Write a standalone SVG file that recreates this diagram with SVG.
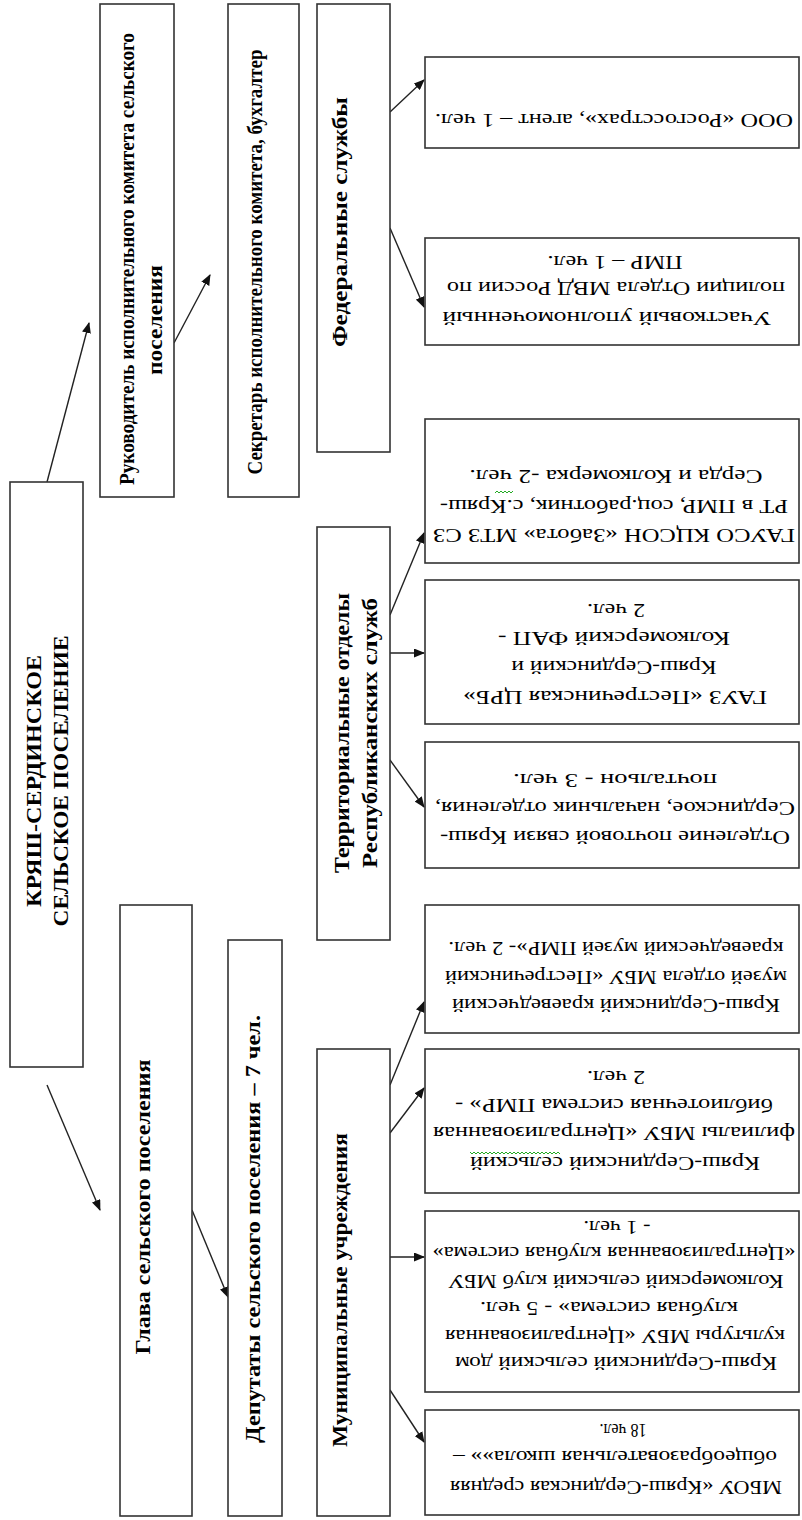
<svg xmlns="http://www.w3.org/2000/svg" width="802" height="1520" viewBox="0 0 802 1520">
<style>
.box{fill:#fff;stroke:#333;stroke-width:1.6}
.lt{font-family:"Liberation Serif","Times New Roman",serif;font-weight:bold;font-size:20px;fill:#000;text-anchor:middle;dominant-baseline:central}
.rt{font-family:"Liberation Serif","Times New Roman",serif;font-size:18px;fill:#000;text-anchor:middle;dominant-baseline:central}
.con{stroke:#222;stroke-width:1.4;fill:none;marker-end:url(#ah)}
.sq{stroke:#2a2;stroke-width:1;fill:none}
</style>
<defs>
<marker id="ah" markerUnits="userSpaceOnUse" markerWidth="11" markerHeight="9" refX="10" refY="4.5" orient="auto">
<path d="M0,0 L11,4.5 L0,9 z" fill="#111"/>
</marker>
</defs>
<rect width="802" height="1520" fill="#fff"/>

<g id="connectors">
<line class="con" x1="47" y1="482" x2="89" y2="323"/>
<line class="con" x1="47" y1="1085" x2="100" y2="1210"/>
<line class="con" x1="174" y1="343" x2="210" y2="275"/>
<line class="con" x1="192" y1="1210" x2="228" y2="1297"/>
<line class="con" x1="390" y1="112" x2="424" y2="80"/>
<line class="con" x1="390" y1="228" x2="424" y2="307"/>
<line class="con" x1="390" y1="615" x2="424" y2="533"/>
<line class="con" x1="390" y1="653" x2="424" y2="653"/>
<line class="con" x1="390" y1="760" x2="424" y2="807"/>
<line class="con" x1="390" y1="1085" x2="424" y2="1002"/>
<line class="con" x1="390" y1="1133" x2="424" y2="1088"/>
<line class="con" x1="390" y1="1257" x2="424" y2="1257"/>
<line class="con" x1="390" y1="1390" x2="424" y2="1442"/>
</g>

<g id="main">
<rect class="box" x="10" y="482" width="73" height="585"/>
<text class="lt" font-size="22" transform="translate(34,781) rotate(-90)" textLength="252" lengthAdjust="spacingAndGlyphs">КРЯШ-СЕРДИНСКОЕ</text>
<text class="lt" font-size="22" transform="translate(61,781) rotate(-90)" textLength="291" lengthAdjust="spacingAndGlyphs">СЕЛЬСКОЕ ПОСЕЛЕНИЕ</text>
</g>

<g id="rukovoditel">
<rect class="box" x="100" y="4" width="74" height="493"/>
<text class="lt" transform="translate(127,259) rotate(-90)" textLength="452" lengthAdjust="spacingAndGlyphs">Руководитель исполнительного комитета сельского</text>
<text class="lt" transform="translate(155,320) rotate(-90)" textLength="110" lengthAdjust="spacingAndGlyphs">поселения</text>
</g>

<g id="sekretar">
<rect class="box" x="228" y="4" width="71" height="493"/>
<text class="lt" transform="translate(255,262) rotate(-90)" textLength="425" lengthAdjust="spacingAndGlyphs">Секретарь исполнительного комитета, бухгалтер</text>
</g>

<g id="glava">
<rect class="box" x="120" y="905" width="72" height="611"/>
<text class="lt" transform="translate(143,1207) rotate(-90)" textLength="295" lengthAdjust="spacingAndGlyphs">Глава сельского поселения</text>
</g>

<g id="deputaty">
<rect class="box" x="228" y="940" width="54" height="576"/>
<text class="lt" transform="translate(253,1229) rotate(-90)" textLength="428" lengthAdjust="spacingAndGlyphs">Депутаты сельского поселения – 7 чел.</text>
</g>

<g id="federal">
<rect class="box" x="317" y="4" width="73" height="448"/>
<text class="lt" transform="translate(340,222) rotate(-90)" textLength="250" lengthAdjust="spacingAndGlyphs">Федеральные службы</text>
</g>

<g id="territorial">
<rect class="box" x="317" y="527" width="73" height="413"/>
<text class="lt" transform="translate(342,733) rotate(-90)" textLength="280" lengthAdjust="spacingAndGlyphs">Территориальные отделы</text>
<text class="lt" transform="translate(370,733) rotate(-90)" textLength="270" lengthAdjust="spacingAndGlyphs">Республиканских служб</text>
</g>

<g id="municipal">
<rect class="box" x="317" y="1049" width="73" height="467"/>
<text class="lt" transform="translate(340,1290) rotate(-90)" textLength="314" lengthAdjust="spacingAndGlyphs">Муниципальные учреждения</text>
</g>

<g id="rosgosstrakh">
<rect class="box" x="425" y="57" width="374" height="91"/>
<text class="rt" transform="translate(614,120) rotate(180)" textLength="358" lengthAdjust="spacingAndGlyphs">ООО «Росгосстрах», агент – 1 чел.</text>
</g>

<g id="police">
<rect class="box" x="425" y="238" width="374" height="107"/>
<text class="rt" transform="translate(607,318) rotate(180)" textLength="329" lengthAdjust="spacingAndGlyphs">Участковый уполномоченный</text>
<text class="rt" transform="translate(616,288) rotate(180)" textLength="338" lengthAdjust="spacingAndGlyphs">полиции Отдела МВД России по</text>
<text class="rt" transform="translate(615,262) rotate(180)" textLength="135" lengthAdjust="spacingAndGlyphs">ПМР – 1 чел.</text>
</g>

<g id="gauso">
<rect class="box" x="425" y="419" width="374" height="144"/>
<text class="rt" transform="translate(614,535) rotate(180)" textLength="362" lengthAdjust="spacingAndGlyphs">ГАУСО КЦСОН «Забота» МТЗ СЗ</text>
<text class="rt" transform="translate(614,506) rotate(180)" textLength="348" lengthAdjust="spacingAndGlyphs">РТ в ПМР, соц.работник, с.Кряш-</text>
<text class="rt" transform="translate(616,476) rotate(180)" textLength="293" lengthAdjust="spacingAndGlyphs">Серда и Колкомерка -2 чел.</text>
<path class="sq" d="M495,493 l2,-2 l2,2 l2,-2 l2,2 l2,-2 l2,2 l2,-2 l2,2 l2,-2"/>
</g>

<g id="crb">
<rect class="box" x="425" y="580" width="374" height="144"/>
<text class="rt" transform="translate(615,697) rotate(180)" textLength="304" lengthAdjust="spacingAndGlyphs">ГАУЗ «Пестречинская ЦРБ»</text>
<text class="rt" transform="translate(614,667) rotate(180)" textLength="205" lengthAdjust="spacingAndGlyphs">Кряш-Сердинский и</text>
<text class="rt" transform="translate(614,638) rotate(180)" textLength="232" lengthAdjust="spacingAndGlyphs">Колкомерский ФАП -</text>
<text class="rt" transform="translate(616,610) rotate(180)" textLength="58" lengthAdjust="spacingAndGlyphs">2 чел.</text>
</g>

<g id="pochta">
<rect class="box" x="425" y="742" width="374" height="126"/>
<text class="rt" transform="translate(615,837) rotate(180)" textLength="350" lengthAdjust="spacingAndGlyphs">Отделение почтовой связи Кряш-</text>
<text class="rt" transform="translate(615,808) rotate(180)" textLength="360" lengthAdjust="spacingAndGlyphs">Сердинское, начальник отделения,</text>
<text class="rt" transform="translate(615,780) rotate(180)" textLength="204" lengthAdjust="spacingAndGlyphs">почтальон - 3 чел.</text>
</g>

<g id="muzey">
<rect class="box" x="425" y="905" width="374" height="128"/>
<text class="rt" transform="translate(616,1005) rotate(180)" textLength="328" lengthAdjust="spacingAndGlyphs">Кряш-Сердинский краеведческий</text>
<text class="rt" transform="translate(616,977) rotate(180)" textLength="342" lengthAdjust="spacingAndGlyphs">музей отдела МБУ «Пестречинский</text>
<text class="rt" transform="translate(616,948) rotate(180)" textLength="335" lengthAdjust="spacingAndGlyphs">краеведческий музей ПМР»- 2 чел.</text>
</g>

<g id="biblioteka">
<rect class="box" x="425" y="1049" width="374" height="144"/>
<text class="rt" transform="translate(615,1163) rotate(180)" textLength="290" lengthAdjust="spacingAndGlyphs">Кряш-Сердинский сельский</text>
<text class="rt" transform="translate(614,1133) rotate(180)" textLength="362" lengthAdjust="spacingAndGlyphs">филиалы МБУ «Централизованная</text>
<text class="rt" transform="translate(614,1105) rotate(180)" textLength="318" lengthAdjust="spacingAndGlyphs">библиотечная система ПМР» -</text>
<text class="rt" transform="translate(616,1077) rotate(180)" textLength="58" lengthAdjust="spacingAndGlyphs">2 чел.</text>
<path class="sq" d="M470,1152 l2,2 l2,-2 l2,2 l2,-2 l2,2 l2,-2 l2,2 l2,-2 l2,2 l2,-2 l2,2 l2,-2 l2,2 l2,-2 l2,2 l2,-2 l2,2 l2,-2 l2,2 l2,-2 l2,2 l2,-2 l2,2 l2,-2 l2,2 l2,-2 l2,2 l2,-2 l2,2 l2,-2 l2,2 l2,-2 l2,2 l2,-2 l2,2 l2,-2 l2,2 l2,-2 l2,2 l2,-2 l2,2 l2,-2 l2,2 l2,-2 l2,2"/>
</g>

<g id="dom-kultury">
<rect class="box" x="425" y="1211" width="374" height="181"/>
<text class="rt" transform="translate(616,1363) rotate(180)" textLength="322" lengthAdjust="spacingAndGlyphs">Кряш-Сердинский сельский дом</text>
<text class="rt" transform="translate(615,1336) rotate(180)" textLength="340" lengthAdjust="spacingAndGlyphs">культуры МБУ «Централизованная</text>
<text class="rt" transform="translate(609,1308) rotate(180)" textLength="258" lengthAdjust="spacingAndGlyphs">клубная система» - 5 чел.</text>
<text class="rt" transform="translate(616,1281) rotate(180)" textLength="335" lengthAdjust="spacingAndGlyphs">Колкомерский сельский клуб МБУ</text>
<text class="rt" transform="translate(614,1253) rotate(180)" textLength="363" lengthAdjust="spacingAndGlyphs">«Централизованная клубная система»</text>
<text class="rt" transform="translate(617,1227) rotate(180)" textLength="67" lengthAdjust="spacingAndGlyphs">- 1 чел.</text>
</g>

<g id="mbou">
<rect class="box" x="425" y="1410" width="374" height="105"/>
<text class="rt" transform="translate(616,1487) rotate(180)" textLength="332" lengthAdjust="spacingAndGlyphs">МБОУ «Кряш-Сердинская средняя</text>
<text class="rt" transform="translate(615,1457) rotate(180)" textLength="324" lengthAdjust="spacingAndGlyphs">общеобразовательная школа»» –</text>
<text class="rt" transform="translate(623,1430) rotate(180)" textLength="47" lengthAdjust="spacingAndGlyphs">18 чел.</text>
</g>
</svg>
